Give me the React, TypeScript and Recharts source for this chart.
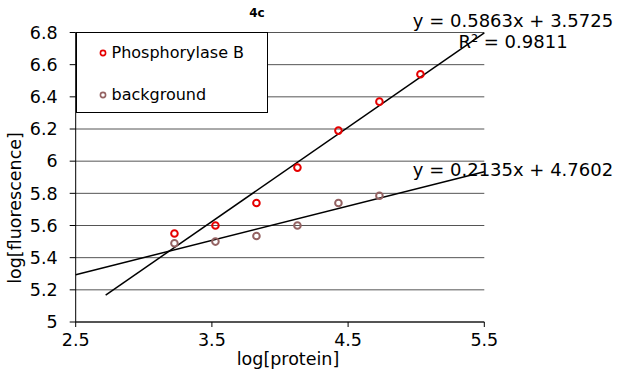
import React from 'react';
import { ScatterChart, Scatter, XAxis, YAxis, CartesianGrid, ReferenceLine, Legend } from 'recharts';

const proteinX = [3.225, 3.526, 3.827, 4.128, 4.429, 4.73, 5.031];
const phosphorylaseY = [5.55, 5.6, 5.74, 5.96, 6.19, 6.37, 6.54];
const backgroundX = [3.225, 3.526, 3.827, 4.128, 4.429, 4.73];
const backgroundY = [5.49, 5.5, 5.535, 5.6, 5.74, 5.785];
const xTicks = [2.5, 3.5, 4.5, 5.5];
const yTicks = [5, 5.2, 5.4, 5.6, 5.8, 6, 6.2, 6.4, 6.6, 6.8];
const seriesNames = ['Phosphorylase B', 'background'];
const seriesColors = ['#e60000', '#946262'];
const trendSlopes = [0.5863, 0.2135];
const trendIntercepts = [3.5725, 4.7602];
const trendStarts = [2.72, 2.5];
const trendEnds = [5.5, 5.5];
const equationLabels = ['y = 0.5863x + 3.5725', 'R² = 0.9811', 'y = 0.2135x + 4.7602'];

const phosData = proteinX.map((x, i) => ({ x, y: phosphorylaseY[i] }));
const bgData = backgroundX.map((x, i) => ({ x, y: backgroundY[i] }));

const FONT = '"DejaVu Sans", Verdana, sans-serif';

const makeShape = (color: string) => (props: any) => (
  <circle cx={props.cx} cy={props.cy} r={3.3} fill="none" stroke={color} strokeWidth={2} />
);

const LegendBox = () => (
  <div
    style={{
      width: 192,
      height: 81,
      border: '1px solid #000',
      background: '#fff',
      boxSizing: 'border-box',
      position: 'relative',
      fontFamily: FONT,
      fontSize: 16,
      color: '#000',
    }}
  >
    {seriesNames.map((name, i) => (
      <div
        key={name}
        style={{ position: 'absolute', left: 22, top: i === 0 ? 9 : 51, height: 22, display: 'flex', alignItems: 'center' }}
      >
        <svg width={10} height={10} style={{ marginRight: 3 }}>
          <circle cx={4} cy={5} r={2.6} fill="none" stroke={seriesColors[i]} strokeWidth={1.6} />
        </svg>
        <span style={{ whiteSpace: 'nowrap' }}>{name}</span>
      </div>
    ))}
  </div>
);

export default function App() {
  return (
    <div style={{ position: 'absolute', left: 0, top: 0, width: 617, height: 374, background: '#fff' }}>
      <ScatterChart
        width={617}
        height={374}
        margin={{ top: 32.5, right: 132.7, bottom: 22, left: 15.7 }}
        style={{ fontFamily: FONT }}
      >
        <CartesianGrid vertical={false} stroke="#555" strokeWidth={1} />
        <XAxis
          type="number"
          dataKey="x"
          domain={[2.5, 5.5]}
          ticks={xTicks}
          allowDataOverflow
          height={30}
          tickSize={5}
          tickMargin={7}
          stroke="#000"
          tick={{ fill: '#000', fontSize: 17.5, fontFamily: FONT }}
          label={{
            content: (p: any) => (
              <text
                x={p.viewBox.x + p.viewBox.width / 2 + 8}
                y={359}
                textAnchor="middle"
                dominantBaseline="central"
                fontSize={17.5}
                fontFamily={FONT}
                fill="#000"
              >
                log[protein]
              </text>
            ),
          }}
        />
        <YAxis
          type="number"
          dataKey="y"
          domain={[5, 6.8]}
          ticks={yTicks}
          allowDataOverflow
          width={60}
          tickSize={6}
          tickMargin={12}
          stroke="#000"
          tick={{ fill: '#000', fontSize: 17.5, fontFamily: FONT }}
          label={{
            content: () => (
              <text
                x={15}
                y={208}
                transform="rotate(-90 15 208)"
                textAnchor="middle"
                dominantBaseline="central"
                fontSize={17.5}
                fontFamily={FONT}
                fill="#000"
              >
                log[fluorescence]
              </text>
            ),
          }}
        />
        {trendSlopes.map((m, i) => (
          <ReferenceLine
            key={i}
            segment={[
              { x: trendStarts[i], y: m * trendStarts[i] + trendIntercepts[i] },
              { x: trendEnds[i], y: m * trendEnds[i] + trendIntercepts[i] },
            ]}
            stroke="#000"
            strokeWidth={1.5}
            ifOverflow="visible"
          />
        ))}
        <Scatter
          name={seriesNames[0]}
          data={phosData}
          shape={makeShape(seriesColors[0])}
          isAnimationActive={false}
        />
        <Scatter
          name={seriesNames[1]}
          data={bgData}
          shape={makeShape(seriesColors[1])}
          isAnimationActive={false}
        />
        <Legend
          layout="vertical"
          align="center"
          verticalAlign="middle"
          content={() => <LegendBox />}
          wrapperStyle={{ left: 75.5, top: 31.5, width: 193, height: 82 }}
        />
      </ScatterChart>
      <svg
        width={617}
        height={374}
        style={{ position: 'absolute', left: 0, top: 0, pointerEvents: 'none' }}
        fontFamily={FONT}
      >
        <text x={257} y={13} textAnchor="middle" dominantBaseline="central" fontSize={12} fontWeight="bold" fill="#000">
          4c
        </text>
        <text x={513} y={20} textAnchor="middle" dominantBaseline="central" fontSize={18} fill="#000">
          {equationLabels[0]}
        </text>
        <text x={513} y={41} textAnchor="middle" dominantBaseline="central" fontSize={18} fill="#000">
          {equationLabels[1]}
        </text>
        <text x={513} y={169} textAnchor="middle" dominantBaseline="central" fontSize={18} fill="#000">
          {equationLabels[2]}
        </text>
      </svg>
    </div>
  );
}
